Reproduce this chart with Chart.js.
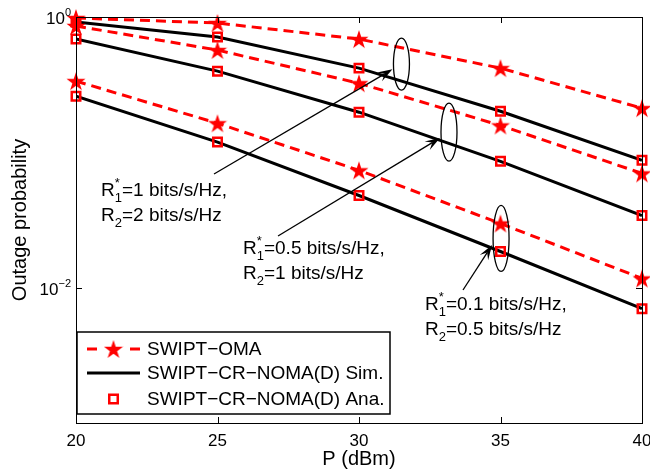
<!DOCTYPE html>
<html>
<head>
<meta charset="utf-8">
<script src="https://cdn.jsdelivr.net/npm/chart.js@4/dist/chart.umd.min.js"></script>
<style>
  html, body { margin: 0; padding: 0; background: #fff; }
  #chart { display: block; }
</style>
</head>
<body>
<canvas id="chart" width="650" height="472"></canvas>
<script>
// transmit power (dBm)
const powers = [20, 25, 30, 35, 40];

// R1*=1, R2=2
const omaHigh = [0.983, 0.903, 0.687, 0.419, 0.212];
const nomaHigh = [0.918, 0.711, 0.419, 0.201, 0.0873];
// R1*=0.5, R2=1
const omaMid = [0.858, 0.570, 0.324, 0.158, 0.0699];
const nomaMid = [0.687, 0.398, 0.198, 0.0858, 0.0341];
// R1*=0.1, R2=0.5
const omaLow = [0.336, 0.164, 0.0736, 0.0298, 0.0117];
const nomaLow = [0.260, 0.119, 0.048, 0.0185, 0.00699];

const yTicks = [1, 0.01];
const yTickExp = ["0", "\u22122"];

const legendLabels = ["SWIPT\u2212OMA", "SWIPT\u2212CR\u2212NOMA(D) Sim.", "SWIPT\u2212CR\u2212NOMA(D) Ana."];

// annotation groups: ellipse centre in data units, text lines
const notes = [
  { ex: 31.5, ey: 0.449, ry: 26, tx: 101, ty: 196, ax: 214, ay: 174, r1: "1", r2: "2" },
  { ex: 33.18, ey: 0.141, ry: 29, tx: 243, ty: 254, ax: 278, ay: 236, r1: "0.5", r2: "1" },
  { ex: 35.02, ey: 0.0231, ry: 33, tx: 425, ty: 310, ax: 463, ay: 290, r1: "0.1", r2: "0.5" }
];

const RED = "#ff0000";
const FONT = "'Liberation Sans', Arial, sans-serif";

function starImage(size, color) {
  const c = document.createElement("canvas");
  c.width = c.height = size;
  const g = c.getContext("2d");
  const R = size / 2;
  const r = R * 0.382;
  const cx = size / 2;
  const cy = size / 2 + R * 0.095;
  g.fillStyle = color;
  g.beginPath();
  for (let i = 0; i < 10; i++) {
    const a = -Math.PI / 2 + i * Math.PI / 5;
    const rad = i % 2 ? r : R;
    g.lineTo(cx + rad * Math.cos(a), cy + rad * Math.sin(a));
  }
  g.closePath();
  g.fill();
  return c;
}
const star = starImage(20, RED);

function pts(ys) {
  return ys.map((y, i) => ({ x: powers[i], y: y }));
}

function omaSet(ys) {
  return {
    data: pts(ys), borderColor: RED, borderWidth: 3, borderDash: [10, 6],
    pointStyle: star, pointRadius: 10, order: 1, tension: 0, clip: false
  };
}
function simSet(ys) {
  return {
    data: pts(ys), borderColor: "#000", borderWidth: 3, pointRadius: 0, order: 2, tension: 0
  };
}
function anaSet(ys) {
  return {
    data: pts(ys), showLine: false, pointStyle: "rect", pointRadius: 6,
    pointBorderWidth: 2.5, pointBorderColor: RED, pointBackgroundColor: "rgba(0,0,0,0)",
    order: 0, clip: false
  };
}

function drawArrow(ctx, x0, y0, x1, y1) {
  const ang = Math.atan2(y1 - y0, x1 - x0);
  const len = 15, half = 5;
  ctx.beginPath();
  ctx.moveTo(x0, y0);
  ctx.lineTo(x1 - Math.cos(ang) * len * 0.6, y1 - Math.sin(ang) * len * 0.6);
  ctx.stroke();
  ctx.save();
  ctx.translate(x1, y1);
  ctx.rotate(ang);
  ctx.beginPath();
  ctx.moveTo(0, 0);
  ctx.lineTo(-len, -half);
  ctx.lineTo(-len * 0.6, 0);
  ctx.lineTo(-len, half);
  ctx.closePath();
  ctx.fill();
  ctx.restore();
}

function drawRLine(ctx, x, y, sub, sup, rest) {
  ctx.font = "19px " + FONT;
  ctx.textAlign = "left";
  ctx.textBaseline = "alphabetic";
  ctx.fillText("R", x, y);
  const wR = ctx.measureText("R").width;
  ctx.font = "13px " + FONT;
  ctx.fillText(sub, x + wR, y + 6);
  if (sup) ctx.fillText(sup, x + wR, y - 9);
  const wS = ctx.measureText(sub).width;
  ctx.font = "19px " + FONT;
  ctx.fillText(rest, x + wR + wS, y);
}

const decor = {
  id: "decor",
  afterDatasetsDraw(chart) {
    const { ctx, chartArea: a, scales } = chart;
    const xs = scales.x, ys = scales.y;
    ctx.save();
    // frame
    ctx.strokeStyle = "#000";
    ctx.lineWidth = 1;
    ctx.strokeRect(a.left + 0.5, a.top + 0.5, a.right - a.left, a.bottom - a.top);
    // ticks inside
    ctx.beginPath();
    powers.forEach(p => {
      const px = Math.round(xs.getPixelForValue(p)) + 0.5;
      ctx.moveTo(px, a.bottom); ctx.lineTo(px, a.bottom - 6);
      ctx.moveTo(px, a.top); ctx.lineTo(px, a.top + 6);
    });
    yTicks.forEach(t => {
      const py = Math.round(ys.getPixelForValue(t)) + 0.5;
      ctx.moveTo(a.left, py); ctx.lineTo(a.left + 6, py);
      ctx.moveTo(a.right, py); ctx.lineTo(a.right - 6, py);
    });
    ctx.stroke();

    // tick labels
    ctx.fillStyle = "#000";
    ctx.font = "17px " + FONT;
    ctx.textAlign = "center";
    ctx.textBaseline = "alphabetic";
    powers.forEach(p => ctx.fillText(String(p), xs.getPixelForValue(p), 446));
    yTicks.forEach((t, i) => {
      const py = ys.getPixelForValue(t);
      ctx.font = "11px " + FONT;
      ctx.textAlign = "right";
      const we = ctx.measureText(yTickExp[i]).width;
      ctx.fillText(yTickExp[i], a.left - 5, py - 1);
      ctx.font = "17px " + FONT;
      ctx.fillText("10", a.left - 5 - we, py + 7);
    });

    // axis titles
    ctx.font = "20px " + FONT;
    ctx.textAlign = "center";
    ctx.fillText("P (dBm)", (a.left + a.right) / 2, 465);
    ctx.save();
    ctx.translate(26, (a.top + a.bottom) / 2);
    ctx.rotate(-Math.PI / 2);
    ctx.fillText("Outage probability", 0, 0);
    ctx.restore();

    // annotations
    ctx.lineWidth = 1.3;
    ctx.strokeStyle = "#000";
    ctx.fillStyle = "#000";
    notes.forEach(n => {
      const cx = xs.getPixelForValue(n.ex), cy = ys.getPixelForValue(n.ey);
      ctx.beginPath();
      ctx.ellipse(cx, cy, 8, n.ry, 0, 0, Math.PI * 2);
      ctx.stroke();
      drawArrow(ctx, n.ax, n.ay, cx - 9, cy + n.ry * 0.2);
      drawRLine(ctx, n.tx, n.ty, "1", "*", "=" + n.r1 + " bits/s/Hz,");
      drawRLine(ctx, n.tx, n.ty + 25, "2", "", "=" + n.r2 + " bits/s/Hz");
    });

    // legend
    const lx = 77, ly = 332, lw = 313, lh = 82;
    ctx.fillStyle = "#fff";
    ctx.fillRect(lx, ly, lw, lh);
    ctx.lineWidth = 1.5;
    ctx.strokeRect(lx, ly, lw, lh);
    const rows = [349, 373, 399];
    const sx0 = 87, sx1 = 140, smid = (sx0 + sx1) / 2;
    // oma sample: dash, star, dash
    ctx.strokeStyle = RED;
    ctx.lineWidth = 3;
    ctx.beginPath();
    ctx.moveTo(sx0, rows[0]); ctx.lineTo(sx0 + 10, rows[0]);
    ctx.moveTo(sx1 - 10, rows[0]); ctx.lineTo(sx1, rows[0]);
    ctx.stroke();
    ctx.drawImage(star, smid - star.width / 2, rows[0] - star.height / 2);
    // sim sample
    ctx.strokeStyle = "#000";
    ctx.beginPath(); ctx.moveTo(sx0, rows[1]); ctx.lineTo(sx1, rows[1]); ctx.stroke();
    // ana sample
    ctx.strokeStyle = RED;
    ctx.lineWidth = 2.5;
    ctx.strokeRect(smid - 4.25, rows[2] - 4.25, 8.5, 8.5);
    ctx.fillStyle = "#000";
    ctx.font = "19px " + FONT;
    ctx.textAlign = "left";
    ctx.textBaseline = "middle";
    legendLabels.forEach((t, i) => ctx.fillText(t, 147, rows[i] + 1));
    ctx.restore();
  }
};

new Chart(document.getElementById("chart"), {
  type: "line",
  data: {
    datasets: [
      omaSet(omaHigh), simSet(nomaHigh), anaSet(nomaHigh),
      omaSet(omaMid), simSet(nomaMid), anaSet(nomaMid),
      omaSet(omaLow), simSet(nomaLow), anaSet(nomaLow)
    ]
  },
  options: {
    responsive: false,
    animation: false,
    devicePixelRatio: 1,
    layout: { autoPadding: false, padding: { left: 76, right: 8, top: 17, bottom: 49 } },
    plugins: { legend: { display: false }, tooltip: { enabled: false } },
    scales: {
      x: {
        type: "linear", min: 20, max: 40,
        ticks: { display: false },
        grid: { display: false, drawTicks: false },
        border: { display: false }
      },
      y: {
        type: "logarithmic", min: 0.001, max: 1,
        ticks: { display: false },
        grid: { display: false, drawTicks: false },
        border: { display: false }
      }
    }
  },
  plugins: [decor]
});
</script>
</body>
</html>
